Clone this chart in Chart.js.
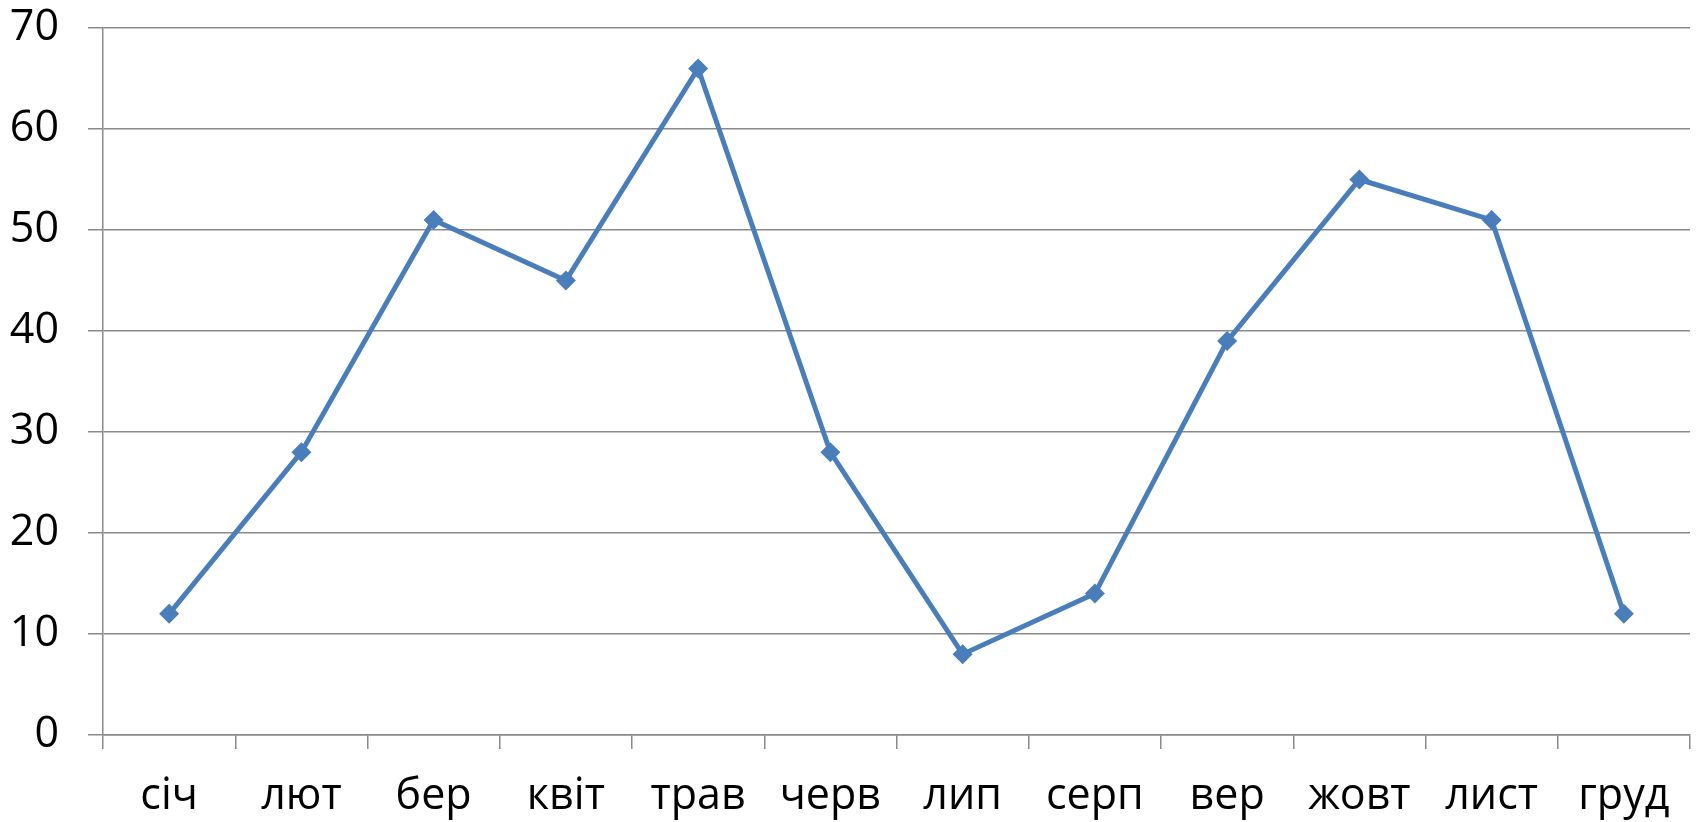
<!DOCTYPE html>
<html>
<head>
<meta charset="utf-8">
<script src="https://cdn.jsdelivr.net/npm/chart.js@4/dist/chart.umd.min.js"></script>
<style>
  html, body { margin: 0; padding: 0; background: #fff; }
  #wrap { width: 1700px; height: 822px; }
</style>
</head>
<body>
<div id="wrap"><canvas id="chart" width="1700" height="822"></canvas></div>
<script>
// ─── Data ───
const months = ['січ', 'лют', 'бер', 'квіт', 'трав', 'черв', 'лип', 'серп', 'вер', 'жовт', 'лист', 'груд'];
const values = [12, 28, 51, 45, 66, 28, 8, 14, 39, 55, 51, 12];
const yTicks = [0, 10, 20, 30, 40, 50, 60, 70];

const gridGray = '#8a8a8a';
const lineBlue = '#4a7ebb';
const fontFamily = "'Open Sans', sans-serif";

new Chart(document.getElementById('chart'), {
  type: 'line',
  data: {
    labels: months,
    datasets: [{
      data: values,
      borderColor: lineBlue,
      backgroundColor: lineBlue,
      borderWidth: 5,
      pointStyle: 'rectRot',
      pointRadius: 10,
      pointBorderWidth: 0,
      tension: 0,
    }],
  },
  options: {
    responsive: false,
    animation: false,
    layout: { padding: { top: 28, right: 9, left: 0, bottom: 0 } },
    plugins: {
      legend: { display: false },
      tooltip: { enabled: false },
    },
    scales: {
      x: {
        offset: true,
        grid: {
          offset: true,
          drawOnChartArea: false,
          drawTicks: true,
          tickLength: 14,
          color: gridGray,
          lineWidth: 1.5,
        },
        border: { color: gridGray, width: 1.5 },
        ticks: {
          color: '#000',
          padding: 22,
          maxRotation: 0,
          font: { family: fontFamily, size: 43 },
        },
        afterFit: s => { s.height = 87; s.paddingLeft = 0; s.paddingRight = 0; },
      },
      y: {
        min: 0,
        max: 70,
        afterBuildTicks: s => { s.ticks = yTicks.map(v => ({ value: v })); },
        grid: {
          color: gridGray,
          lineWidth: 1.5,
          tickLength: 15,
        },
        border: { color: gridGray, width: 1.5 },
        ticks: {
          color: '#000',
          padding: 29,
          font: { family: fontFamily, size: 43 },
        },
        afterFit: s => { s.width = 103; s.paddingTop = 0; s.paddingBottom = 0; },
      },
    },
  },
});
</script>
</body>
</html>
